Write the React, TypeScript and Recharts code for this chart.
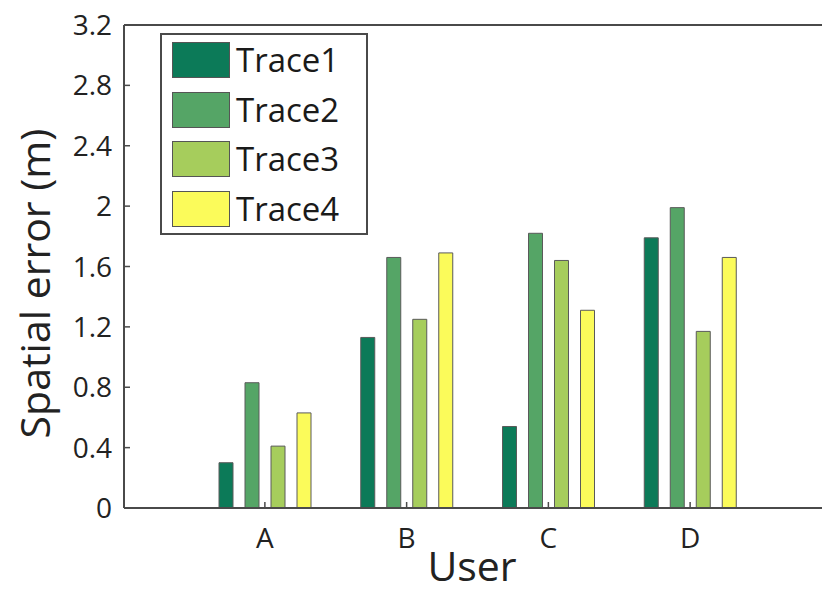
import React from 'react';
import { BarChart, Bar, XAxis, YAxis, Legend, ReferenceLine } from 'recharts';

const users = ['A', 'B', 'C', 'D'];
const trace1 = [0.3, 1.13, 0.54, 1.79];
const trace2 = [0.83, 1.66, 1.82, 1.99];
const trace3 = [0.41, 1.25, 1.64, 1.17];
const trace4 = [0.63, 1.69, 1.31, 1.66];
const yTicks = [0, 0.4, 0.8, 1.2, 1.6, 2, 2.4, 2.8, 3.2];

const seriesNames = ['Trace1', 'Trace2', 'Trace3', 'Trace4'];
const seriesColors = ['#0c7a58', '#55a566', '#a6cd5c', '#fbfb5a'];

const FONT = '"Open Sans", sans-serif';
const AXIS = '#4a4a4a';

const data = users.map((user, i) => ({
  user,
  Trace1: trace1[i],
  Trace2: trace2[i],
  Trace3: trace3[i],
  Trace4: trace4[i],
}));

// y ticks: label left of axis, small tick pointing into the plot
const YTick = ({ x, y, payload }: any) => (
  <g>
    <line x1={x + 12} x2={x + 18} y1={y} y2={y} stroke={AXIS} strokeWidth={1.5} />
    <text x={x} y={y} dy={10} textAnchor="end" fill="#222" fontSize={28} fontFamily={FONT}>
      {String(payload.value)}
    </text>
  </g>
);

// bottom ticks: label under axis, tick pointing up
const XTick = ({ x, y, payload }: any) => (
  <g>
    <line x1={x} x2={x} y1={y} y2={y - 6} stroke={AXIS} strokeWidth={1.5} />
    <text x={x} y={y + 40} textAnchor="middle" fill="#222" fontSize={28} fontFamily={FONT}>
      {payload.value}
    </text>
  </g>
);

// top border ticks pointing down, no labels
const TopTick = ({ x, y }: any) => (
  <line x1={x} x2={x} y1={y} y2={y + 6} stroke={AXIS} strokeWidth={1.5} />
);

const LegendBox = ({ payload }: any) => (
  <div
    style={{
      width: 204,
      height: 198,
      border: `2px solid ${AXIS}`,
      background: '#fff',
      position: 'relative',
      fontFamily: FONT,
    }}
  >
    {(payload || []).map((entry: any, i: number) => (
      <div key={entry.value} style={{ position: 'absolute', left: 10, top: 7 + i * 49.5, display: 'flex', alignItems: 'center' }}>
        <div style={{ width: 58, height: 36, background: entry.color, border: '1.5px solid #555', boxSizing: 'border-box' }} />
        <span style={{ marginLeft: 6, fontSize: 33, color: '#1a1a1a', lineHeight: '36px' }}>{entry.value}</span>
      </div>
    ))}
  </div>
);

export default function App() {
  return (
    <div style={{ position: 'absolute', left: 0, top: 0, width: 822, height: 592, overflow: 'hidden', background: '#fff' }}>
      <BarChart
        width={900}
        height={592}
        data={data}
        margin={{ top: 25, right: 68, left: 0, bottom: 0 }}
        barSize={14}
        barGap={12}
      >
        <XAxis
          dataKey="user"
          height={84}
          padding={{ left: 70, right: 71 }}
          axisLine={{ stroke: AXIS, strokeWidth: 2 }}
          tickLine={false}
          tickSize={0}
          tickMargin={0}
          tick={<XTick />}
          label={(props: any) => {
            const vb = props.viewBox;
            return (
              <text x={vb.x + vb.width / 2 - 6} y={vb.y + 73} textAnchor="middle" fontSize={41} fill="#222" fontFamily={FONT}>
                User
              </text>
            );
          }}
        />
        <XAxis
          xAxisId="top"
          dataKey="user"
          orientation="top"
          height={0}
          padding={{ left: 70, right: 71 }}
          axisLine={false}
          tickLine={false}
          tickSize={0}
          tickMargin={0}
          tick={<TopTick />}
        />
        <YAxis
          width={124}
          domain={[0, 3.2]}
          ticks={yTicks}
          interval={0}
          axisLine={{ stroke: AXIS, strokeWidth: 2 }}
          tickLine={false}
          tickSize={0}
          tickMargin={12}
          tick={<YTick />}
          label={(props: any) => {
            const vb = props.viewBox;
            const cx = vb.x + 50;
            const cy = vb.y + vb.height / 2 + 17;
            return (
              <text x={cx} y={cy} transform={`rotate(-90 ${cx} ${cy})`} textAnchor="middle" fontSize={41} fill="#222" fontFamily={FONT}>
                Spatial error (m)
              </text>
            );
          }}
        />
        {/* top frame of the axes box */}
        <ReferenceLine y={3.2} stroke={AXIS} strokeWidth={2} />
        <Legend
          layout="vertical"
          align="center"
          verticalAlign="middle"
          content={<LegendBox />}
          wrapperStyle={{ position: 'absolute', left: 160, top: 33, width: 'auto' }}
        />
        {seriesNames.map((name, i) => (
          <Bar
            key={name}
            dataKey={name}
            name={name}
            fill={seriesColors[i]}
            stroke="#5a5a5a"
            strokeWidth={1}
            isAnimationActive={false}
          />
        ))}
      </BarChart>
    </div>
  );
}
